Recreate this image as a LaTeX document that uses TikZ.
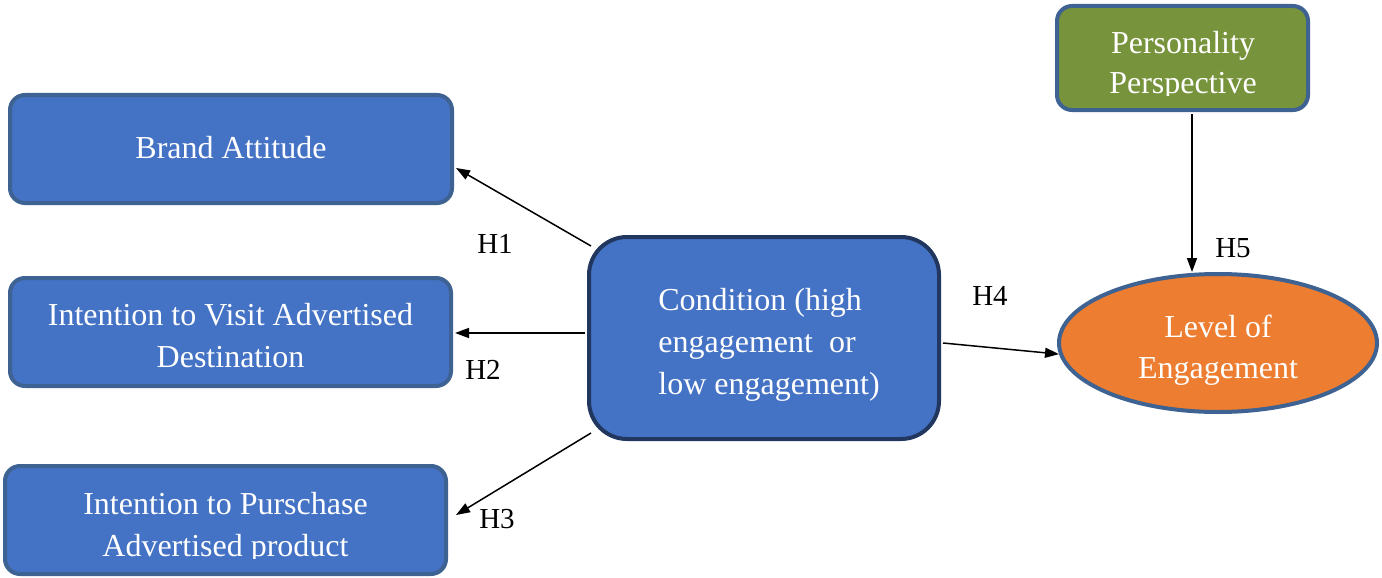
\documentclass[tikz,border=0pt]{standalone}
\usepackage{fontspec}
\setmainfont{Liberation Serif}
\usetikzlibrary{arrows.meta,shapes.geometric,calc}
\definecolor{boxblue}{RGB}{68,114,196}
\definecolor{edgeblue}{RGB}{62,98,145}
\definecolor{darkedge}{RGB}{33,55,95}
\definecolor{olive}{RGB}{119,147,60}
\definecolor{orng}{RGB}{237,125,49}
\tikzset{
  bluebox/.style={draw=edgeblue, fill=boxblue, line width=4pt, rounded corners=15pt, inner sep=0pt},
  boxtext/.style={inner sep=0pt, text=white, align=center, font=\fontsize{32}{42}\selectfont},
  hyp/.style={inner sep=0pt, font=\fontsize{29}{34}\selectfont},
  conn/.style={line width=1.5pt, -{Triangle[length=14pt,width=10pt]}}
}
\begin{document}
\begin{tikzpicture}[x=1pt,y=-1pt]
\useasboundingbox (0,0) rectangle (1382,578);
% boxes
\node[bluebox, minimum width=442pt, minimum height=108pt] (brand) at (231,149) {};
\node[boxtext] (brandtext) at (231,148) {Brand Attitude};
\node[bluebox, minimum width=441pt, minimum height=108pt] (visit) at (230.5,332) {};
\node[boxtext] (visittext) at (230.5,336) {Intention to Visit Advertised\\Destination};
\node[bluebox, minimum width=441pt, minimum height=108pt] (purchase) at (225.5,520) {};
\begin{scope}
  \clip (0,460) rectangle (460,558.5);
  \node[boxtext] (purchasetext) at (225.5,528) {Intention to Purschase\\Advertised product};
\end{scope}
\node[bluebox, draw=darkedge, rounded corners=38pt, minimum width=350pt, minimum height=202pt] (cond) at (764,338) {};
\node[boxtext, align=left] (condtext) at (769,345) {Condition (high\\engagement\ \ or\\low engagement)};
\node[bluebox, fill=olive, minimum width=251pt, minimum height=104pt] (pers) at (1182.5,58) {};
\begin{scope}
  \clip (1050,0) rectangle (1320,95.5);
  \node[boxtext, font=\fontsize{32}{40}\selectfont] (perstext) at (1183,66) {Personality\\Perspective};
\end{scope}
\node[ellipse, draw=edgeblue, fill=orng, line width=4pt, minimum width=318pt, minimum height=138pt, inner sep=0pt] (ell) at (1218,343) {};
\node[boxtext, font=\fontsize{32}{41}\selectfont] (elltext) at (1218,350) {Level of\\Engagement};
% connectors
\draw[conn] ($(cond.north west)+(4,11)$) -- ($(brand.east)+(2,19)$);
\draw[conn] ($(cond.west)+(-2,-5)$) -- ($(visit.east)+(2,1)$);
\draw[conn] ($(cond.south west)+(4,-8)$) -- ($(purchase.east)+(8,-5)$);
\draw[conn] ($(cond.east)+(2,5)$) -- (ell.184);
\draw[conn] ($(pers.south)+(9.5,2)$) -- ($(ell.north)+(-26,0)$);
% labels
\node[hyp] (h1) at (495,244) {H1};
\node[hyp] (h2) at (483,370) {H2};
\node[hyp] (h3) at (497,519) {H3};
\node[hyp] (h4) at (990,296) {H4};
\node[hyp] (h5) at (1233,248) {H5};
\end{tikzpicture}
\end{document}
